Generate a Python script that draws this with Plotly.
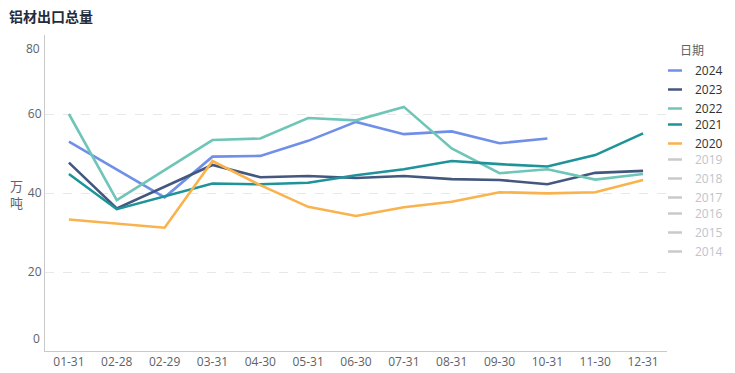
import plotly.graph_objects as go

categories = ["01-31", "02-28", "02-29", "03-31", "04-30", "05-31", "06-30",
              "07-31", "08-31", "09-30", "10-31", "11-30", "12-31"]
y2024 = [53.0, None, 38.9, 49.2, 49.4, 53.2, 58.0, 54.9, 55.6, 52.6, 53.8, None, None]
y2023 = [47.7, 36.1, None, 47.1, 44.0, 44.3, 43.8, 44.3, 43.5, 43.3, 42.2, 45.1, 45.6]
y2022 = [60.0, 38.2, None, 53.4, 53.8, 59.0, 58.4, 61.8, 51.3, 45.0, 46.0, 43.4, 44.8]
y2021 = [44.8, 35.9, None, 42.4, 42.2, 42.6, 44.5, 46.0, 48.1, 47.3, 46.7, 49.6, 55.1]
y2020 = [33.3, None, 31.2, 48.1, 42.0, 36.5, 34.2, 36.4, 37.8, 40.2, 39.9, 40.2, 43.3]

active_years = ["2024", "2023", "2022", "2021", "2020"]
active_values = [y2024, y2023, y2022, y2021, y2020]
active_colors = ["#6f8fe9", "#44577f", "#6fc5b8", "#1e9399", "#fab24c"]
hidden_years = ["2019", "2018", "2017", "2016", "2015", "2014"]
y_ticks = [0, 20, 40, 60, 80]

FONT = "Open Sans, Noto Sans CJK SC, sans-serif"
W, H = 735, 373
L, R, T, B = 45, 68, 35, 22
PW, PH = W - L - R, H - T - B


def px_x(px):
    return (px - L) / PW


def px_y(py):
    return (H - B - py) / PH


fig = go.Figure()

for name, vals, col in zip(active_years, active_values, active_colors):
    fig.add_trace(go.Scatter(x=categories, y=vals, mode="lines", name=name,
                             connectgaps=True, showlegend=False,
                             line=dict(color=col, width=2.6)))

# legend entries, split into small groups so the row spacing matches
legend_ids = ["legend", "legend", "legend", "legend2", "legend2"]
for name, col, lid in zip(active_years, active_colors, legend_ids):
    fig.add_trace(go.Scatter(x=[None], y=[None], mode="markers", name=name,
                             legend=lid, showlegend=True,
                             marker=dict(symbol="line-ew", size=10,
                                         line=dict(color=col, width=2.5))))
hidden_ids = ["legend3", "legend3", "legend3", "legend4", "legend4", "legend4"]
for name, lid in zip(hidden_years, hidden_ids):
    fig.add_trace(go.Scatter(x=[None], y=[None], mode="markers", name=name,
                             legend=lid, showlegend=True,
                             marker=dict(symbol="line-ew", size=10,
                                         line=dict(color="#c8cacd", width=2.5))))


def leg(top, color):
    return dict(x=655 / W, xref="container", xanchor="left",
                y=1 - top / H, yref="container", yanchor="top",
                font=dict(size=12, color=color, family=FONT),
                bgcolor="rgba(0,0,0,0)", tracegroupgap=0)


fig.update_layout(
    width=W, height=H,
    margin=dict(l=L, r=R, t=T, b=B, autoexpand=False),
    paper_bgcolor="white", plot_bgcolor="white",
    font=dict(family=FONT, size=12, color="#606266"),
    title=dict(text="<b>铝材出口总量</b>", xref="container", yref="container",
               x=9 / W, xanchor="left", y=1 - 17 / H, yanchor="middle",
               font=dict(size=14, color="#1f2d3d", family=FONT)),
    xaxis=dict(type="category", categoryorder="array", categoryarray=categories,
               range=[-0.5, 12.5], showgrid=False, showline=True,
               linecolor="#c9c9c9", linewidth=1, ticks="", zeroline=False,
               tickfont=dict(size=12, color="#606266")),
    yaxis=dict(range=[0, 80], tickvals=y_ticks,
               ticktext=["" if v in (0, 80) else str(v) for v in y_ticks],
               showgrid=True, gridcolor="#e8e8e8", griddash="dash", gridwidth=1,
               showline=True, linecolor="#c9c9c9", linewidth=1, zeroline=False,
               ticks="", tickfont=dict(size=12, color="#606266")),
    legend=leg(56, "#303133"),
    legend2=leg(110, "#303133"),
    legend3=leg(145, "#c0c4cc"),
    legend4=leg(199, "#c0c4cc"),
)

# top and bottom y labels (shifted inward as in reference)
fig.add_annotation(x=0, xref="paper", y=80, yref="y", text="80", showarrow=False,
                   xanchor="right", xshift=-3, yshift=-13,
                   font=dict(size=12, color="#606266", family=FONT))
fig.add_annotation(x=0, xref="paper", y=0, yref="y", text="0", showarrow=False,
                   xanchor="right", xshift=-3, yshift=13,
                   font=dict(size=12, color="#606266", family=FONT))
# y-axis unit
fig.add_annotation(x=px_x(16), xref="paper", y=px_y(194), yref="paper", text="万<br>吨",
                   showarrow=False, xanchor="center", yanchor="middle",
                   font=dict(size=13, color="#606266", family=FONT))
# legend title
fig.add_annotation(x=px_x(678), xref="paper", y=px_y(50), yref="paper",
                   text="日期", showarrow=False, xanchor="left", yanchor="middle",
                   font=dict(size=12, color="#606266", family=FONT))

fig.write_html("out.html", config={"displayModeBar": False},
               post_script="document.body.style.margin='0px';")
